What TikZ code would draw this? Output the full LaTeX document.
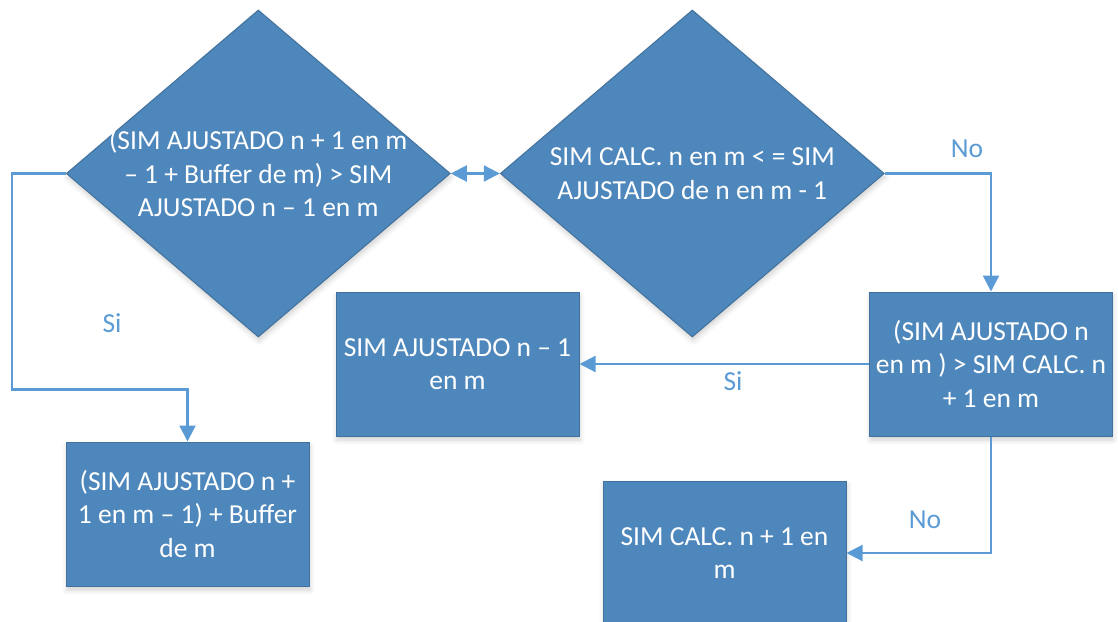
\documentclass[tikz,border=0pt]{standalone}
\usepackage{fontspec}
\setmainfont{Carlito}
\usetikzlibrary{shapes.geometric,arrows.meta,shadows.blur}

\definecolor{shapefill}{HTML}{4E87BB}
\definecolor{shapeedge}{HTML}{41719C}
\definecolor{linkblue}{HTML}{5B9BD5}

\tikzset{
  every node/.style={font=\fontsize{27.5}{33.5}\selectfont},
  shapebase/.style={fill=shapefill, draw=shapeedge, line width=1pt,
    blur shadow={shadow xshift=1pt, shadow yshift=-4pt,
                 shadow blur radius=5pt, shadow opacity=18}},
  decision/.style={shapebase, diamond, minimum width=384pt,
    minimum height=327pt, inner sep=0pt},
  process/.style={shapebase, rectangle, minimum width=243pt,
    minimum height=144pt, inner sep=0pt, text=white, align=center},
  caption/.style={text=white, align=center, inner sep=0pt},
  link/.style={draw=linkblue, line width=2.2pt, -{Triangle[length=16pt,width=16pt]}},
  biglink/.style={draw=linkblue, line width=2.2pt,
    {Triangle[length=16pt,width=16pt]}-{Triangle[length=16pt,width=16pt]}},
  linklabel/.style={text=linkblue},
}

\begin{document}
\begin{tikzpicture}[x=1pt, y=-1pt]
  \useasboundingbox (0,0) rectangle (1118,621);
  \clip (0,0) rectangle (1118,621);

  % decisions
  \node[decision] (d1) at (258.3,173.5) {};
  \node[caption] (d1t) at (d1.center)
    {(SIM AJUSTADO n + 1 en m\\– 1 + Buffer de m) > SIM\\AJUSTADO n – 1 en m};
  \node[decision] (d2) at (692.3,173.5) {};
  \node[caption] (d2t) at (d2.center)
    {SIM CALC. n en m < = SIM\\AJUSTADO de n en m - 1};

  % processes
  \node[process] (b1) at (457.5,364) {SIM AJUSTADO n – 1\\en m};
  \node[process] (b2) at (991,364) {(SIM AJUSTADO n\\en m ) > SIM CALC. n\\+ 1 en m};
  \node[process] (b3) at (187.5,514) {(SIM AJUSTADO n +\\1 en m – 1) + Buffer\\de m};
  \node[process] (b4) at (724.5,553) {SIM CALC. n + 1 en\\m};

  % connectors
  \draw[biglink] (d1.east) -- (d2.west);
  \draw[link] (d1.west) -- (12.3,173.5) -- (12.3,389.5) -| (b3.north);
  \draw[link] (d2.east) -| (b2.north);
  \draw[link] (b2.west) -- (b1.east);
  \draw[link] (b2.south) |- (b4.east);

  % connector labels
  \node[linklabel] (l1) at (112,323) {Si};
  \node[linklabel] (l2) at (967,149) {No};
  \node[linklabel] (l3) at (733,381) {Si};
  \node[linklabel] (l4) at (925,520) {No};
\end{tikzpicture}
\end{document}
